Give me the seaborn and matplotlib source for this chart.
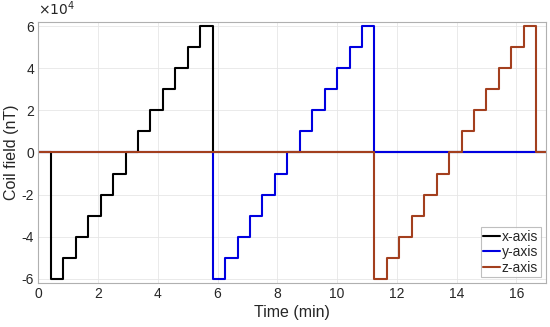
import matplotlib
matplotlib.use("Agg")
import matplotlib.pyplot as plt
import seaborn as sns
import pandas as pd
import numpy as np

# Time breakpoints (min), start of each 25-s step, plus end
t_edges = [0, 0.42, 0.83, 1.25, 1.67, 2.08, 2.50, 2.92, 3.33, 3.75, 4.17, 4.58,
           5.00, 5.42, 5.83, 6.25, 6.67, 7.08, 7.50, 7.92, 8.33, 8.75, 9.17, 9.58,
           10.00, 10.42, 10.83, 11.25, 11.67, 12.08, 12.50, 12.92, 13.33, 13.75,
           14.17, 14.58, 15.00, 15.42, 15.83, 16.25, 16.67, 17.0]

# Coil field levels (nT) for each step interval
x_vals = [0, -60000, -50000, -40000, -30000, -20000, -10000, 0, 10000, 20000, 30000,
          40000, 50000, 60000, 0, 0, 0, 0, 0, 0, 0, 0, 0, 0, 0, 0, 0,
          0, 0, 0, 0, 0, 0, 0, 0, 0, 0, 0, 0, 0, 0]
y_vals = [0, 0, 0, 0, 0, 0, 0, 0, 0, 0, 0, 0, 0, 0,
          -60000, -50000, -40000, -30000, -20000, -10000, 0, 10000, 20000, 30000,
          40000, 50000, 60000, 0, 0, 0, 0, 0, 0, 0, 0, 0, 0, 0, 0, 0, 0]
z_vals = [0, 0, 0, 0, 0, 0, 0, 0, 0, 0, 0, 0, 0, 0, 0, 0, 0, 0, 0, 0, 0, 0, 0, 0,
          0, 0, 0, -60000, -50000, -40000, -30000, -20000, -10000, 0, 10000, 20000,
          30000, 40000, 50000, 60000, 0]

series_names = ["x-axis", "y-axis", "z-axis"]
series_vals = [x_vals, y_vals, z_vals]
colors = {"x-axis": "#000000", "y-axis": "#0000E0", "z-axis": "#A33F1E"}

rows = []
for name, vals in zip(series_names, series_vals):
    v = list(vals) + [vals[-1]]
    for t, val in zip(t_edges, v):
        rows.append({"Time": t, "Field": val, "Axis": name})
df = pd.DataFrame(rows)

sns.set_theme(style="whitegrid")
plt.rcParams["font.family"] = ["Liberation Sans", "DejaVu Sans"]

fig = plt.figure(figsize=(5.5, 3.27), dpi=100)
ax = fig.add_axes([0.0698, 0.1346, 0.9232, 0.7981])

sns.lineplot(data=df, x="Time", y="Field", hue="Axis", palette=colors,
             drawstyle="steps-post", linewidth=1.5, ax=ax, estimator=None,
             sort=False)

ax.set_xlim(0, 17)
ax.set_ylim(-62000, 62000)
ax.set_xticks([0, 2, 4, 6, 8, 10, 12, 14, 16])
ax.set_yticks([-60000, -40000, -20000, 0, 20000, 40000, 60000])
ax.set_yticklabels(["-6", "-4", "-2", "0", "2", "4", "6"])
ax.text(0.0, 1.015, r"$\times10^4$", transform=ax.transAxes, fontsize=10,
        ha="left", va="bottom", color="#262626")
ax.set_xlabel("Time (min)", fontsize=11.5, color="#262626", labelpad=3)
ax.set_ylabel("Coil field (nT)", fontsize=11.5, color="#262626", labelpad=2)
ax.tick_params(axis="both", labelsize=10, colors="#262626", length=0, pad=3)
ax.set_facecolor("white")
ax.grid(True, color="#e6e6e6", linewidth=0.6)
for s in ax.spines.values():
    s.set_visible(True)
    s.set_color("#b0b0b0")
    s.set_linewidth(0.8)

leg = ax.legend(loc="lower right", fontsize=10, handlelength=1.2,
                handletextpad=0.1, borderpad=0.2, labelspacing=0.1,
                frameon=True, fancybox=False, borderaxespad=0.4)
leg.get_frame().set_edgecolor("#b0b0b0")
leg.get_frame().set_linewidth(0.8)
leg.set_title(None)

fig.savefig("out.png", dpi=100, facecolor="white")
